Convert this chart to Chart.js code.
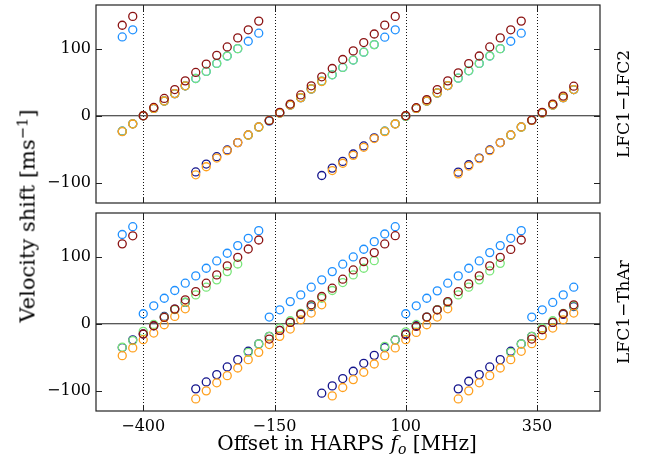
<!DOCTYPE html>
<html><head><meta charset="utf-8">
<script src="https://cdn.jsdelivr.net/npm/chart.js@4.4.0/dist/chart.umd.min.js"></script>
<style>
html,body{margin:0;padding:0;background:#fff;}
#wrap{position:relative;width:647px;height:459px;overflow:hidden;font-family:"DejaVu Serif",serif;color:#000;background:#fff;}
canvas{position:absolute;left:0;}
#c1{top:0;}
#c2{top:208px;}
.lbl{position:absolute;white-space:nowrap;line-height:1;}
#ytitle{left:28px;top:216px;font-size:21px;transform:translate(-50%,-50%) rotate(-90deg);}
#ytitle sup{font-size:70%;vertical-align:0.5em;line-height:0;}
#xtitle{left:347px;top:433px;font-size:20px;transform:translateX(-50%);}
#xtitle sub{font-size:70%;vertical-align:-0.25em;line-height:0;}
#r1{left:623px;top:104px;font-size:17px;transform:translate(-50%,-50%) rotate(-90deg);}
#r2{left:623px;top:312px;font-size:17px;transform:translate(-50%,-50%) rotate(-90deg);}
</style></head><body>
<div id="wrap">
<canvas id="c1" width="647" height="210"></canvas>
<canvas id="c2" width="647" height="251"></canvas>
<div class="lbl" id="ytitle">Velocity shift [ms<sup>−1</sup>]</div>
<div class="lbl" id="xtitle">Offset in HARPS <i>f</i><sub><i>o</i></sub> [MHz]</div>
<div class="lbl" id="r1">LFC1−LFC2</div>
<div class="lbl" id="r2">LFC1−ThAr</div>
</div>
<script>
// Offsets in HARPS f_o [MHz]
const offsets = [-440,-420,-400,-380,-360,-340,-320,-300,-280,-260,-240,-220,-200,-180,-160,-140,-120,-100,-80,-60,-40,-20,0,20,40,60,80,100,120,140,160,180,200,220,240,260,280,300,320,340,360,380,400,420];
const xTicks = [-400, -150, 100, 350];
const yTicks = [-100, 0, 100];

// Panel 1: LFC1-LFC2
const topRed    = [134.8,148,0,12.4,25.8,39,52,64.5,77,90,102.5,116,128,141,-7.4,5,17.4,31,44.6,58,70.4,83.8,96.6,109,121.8,135,148,0,12,24,39,52,64,77.8,89,102.5,116,128,141,-6.4,5,17.4,29.3,44];
const topBlue   = [117.4,128,0,11,22,33,44.6,55.5,66,78,89,100,111,123,-8,4,16,27,40,51.6,61,72,83,94.7,106,117,128,-1,11,22,34,45,56,67,78,89,100,111,123,-7,4,16,27,39];
const topGreen  = [-23,-12,0,11,22,33,44.6,55.5,66,78,89,100,-29,-17,-7,4,16,27,40,51.6,61,72,83,94.7,106,-23,-12,-1,11,22,34,45,56,67,78,89,100,-29,-17,-7,4,16,27,39];
const topOrange = [-23.8,-12.3,0,11,22,33,44.6,-88,-76,-63,-52,-40,-28.7,-16.8,-7,4,16,27,40,51,-81.7,-70.8,-59,-47,-34,-23.8,-12.3,0,11,22,34,45,-86.6,-75,-64,-52,-40,-28.7,-16.8,-7,4,16,27,39];
const topNavy   = [-23,-12,0,11,22,33,44.6,-83.7,-72,-61,-51,-40,-28.7,-16.8,-7,4,16,27,40,-89,-78,-68,-57,-45,-33,-23,-12,0,11,22,34,45,-84,-73,-63,-51,-40,-28.7,-16.8,-7,4,16,27,39];

// Panel 2: LFC1-ThAr
const botRed    = [119,131,-15.3,-3,9.4,21.8,35.7,48,60.4,72.8,86.2,99,111.4,124.8,-22.8,-10,2,14.4,28.2,40.6,53,66.4,80.2,92.6,106,118.9,131.2,-16.3,-4,10,20.8,33,48,59.4,71.3,86.2,99,110.8,124.8,-22.8,-8.9,2,14.9,28.2];
const botBlue   = [133,144.6,14.9,26.7,38,49.5,60.4,71.3,82.7,93.6,105,116.4,127.3,138.7,10,20.8,33,43,54.5,65.4,77.7,88.7,99.5,111,122.3,133.7,144.6,14.9,26.7,38,49,60.4,71.3,82.7,93.6,106,116.4,127.3,138.7,10,20.8,31.7,43,54.5];
const botGreen  = [-35,-25,-11.4,-1,10,21,32,43,54.5,65.4,77.7,89,-42.6,-30.2,-18.8,-6.5,4.5,15.5,26.5,38,49.5,61.4,72.8,82.7,94,-33.7,-23.8,-12,-1,10,21,32,43,54.5,65.4,78.7,90,-42.6,-30.2,-18.8,-6.5,4.5,15.5,26.5];
const botOrange = [-47.5,-36,-23.8,-13.9,-1.5,10.9,22.3,-112,-100,-88,-77.3,-65.9,-53.5,-42.6,-31,-18.8,-7.9,5.9,15.9,28.2,-107.5,-95,-83.2,-72.3,-60,-47.5,-36,-23.8,-12.9,-1.5,10,22.3,-112,-100,-88,-77.3,-65.9,-53.5,-41.1,-29.7,-17.8,-6.4,5.9,15.9];
const botNavy   = [-35.5,-24,-15.3,-3,10.9,21.8,31.7,-97,-86.7,-75.8,-64.4,-53.5,-41,-30,-18.8,-10,2,14,25.7,-103.5,-92.6,-81.7,-70.8,-58.9,-47.1,-35.5,-24,-15,-3,10,20.8,31.7,-97,-85.7,-75.8,-64.4,-53.5,-41,-30,-18.8,-8.9,2,14,25.7];

const COLORS = {red:'#8b1212', navy:'#14148c', orange:'#ffa01e', green:'#7ae67a', blue:'#1e90ff'};
const fmt = v => (v < 0 ? '\u2212' + Math.abs(v) : String(v));

const framePlugin = {
  id: 'frame',
  beforeDatasetsDraw(chart) {
    const {ctx, chartArea: a, scales: {x, y}} = chart;
    ctx.save();
    ctx.beginPath(); ctx.rect(a.left, a.top, a.right - a.left, a.bottom - a.top); ctx.clip();
    const y0 = y.getPixelForValue(0);
    ctx.strokeStyle = '#222'; ctx.lineWidth = 1.2;
    ctx.beginPath(); ctx.moveTo(a.left, y0); ctx.lineTo(a.right, y0); ctx.stroke();
    ctx.setLineDash([1, 2]); ctx.lineWidth = 1; ctx.strokeStyle = '#111';
    xTicks.forEach(v => {
      const px = Math.round(x.getPixelForValue(v)) + 0.5;
      ctx.beginPath(); ctx.moveTo(px, a.top); ctx.lineTo(px, a.bottom); ctx.stroke();
    });
    ctx.restore();
  },
  afterDraw(chart) {
    const {ctx, chartArea: a, scales: {x, y}} = chart;
    ctx.save();
    ctx.strokeStyle = '#222'; ctx.lineWidth = 1.2;
    ctx.strokeRect(a.left, a.top, a.right - a.left, a.bottom - a.top);
    ctx.lineWidth = 1;
    const L = 6;
    ctx.beginPath();
    yTicks.forEach(v => {
      const py = Math.round(y.getPixelForValue(v)) + 0.5;
      ctx.moveTo(a.left, py); ctx.lineTo(a.left + L, py);
      ctx.moveTo(a.right, py); ctx.lineTo(a.right - L, py);
    });
    xTicks.forEach(v => {
      const px = Math.round(x.getPixelForValue(v)) + 0.5;
      ctx.moveTo(px, a.bottom); ctx.lineTo(px, a.bottom - L);
      ctx.moveTo(px, a.top); ctx.lineTo(px, a.top + L);
    });
    ctx.stroke();
    ctx.restore();
  }
};

function makeChart(id, series, showX, padBottom) {
  return new Chart(document.getElementById(id), {
    type: 'scatter',
    data: {
      datasets: series.map(s => ({
        data: offsets.map((o, i) => ({x: o, y: s.values[i]})).filter(p => p.y !== null),
        borderColor: s.color,
        backgroundColor: 'rgba(0,0,0,0)',
        pointRadius: 4,
        pointHoverRadius: 4,
        borderWidth: 1.3,
        showLine: false
      }))
    },
    options: {
      responsive: false, animation: false, events: [],
      plugins: {legend: {display: false}, tooltip: {enabled: false}},
      layout: {autoPadding: false, padding: {top: 5, right: 47, bottom: padBottom, left: 0}},
      scales: {
        x: {
          type: 'linear', min: -490, max: 470, display: showX,
          grid: {display: false, drawTicks: false}, border: {display: false},
          afterBuildTicks: s => { s.ticks = xTicks.map(v => ({value: v})); },
          afterFit: s => { s.height = showX ? 48 : 0; s.paddingLeft = 0; s.paddingRight = 0; },
          ticks: {font: {family: 'DejaVu Serif', size: 16}, color: '#000', padding: 6,
                  maxRotation: 0, autoSkip: false, callback: v => fmt(v)}
        },
        y: {
          type: 'linear', min: -130, max: 165,
          grid: {display: false, drawTicks: false}, border: {display: false},
          afterBuildTicks: s => { s.ticks = yTicks.map(v => ({value: v})); },
          afterFit: s => { s.width = 96; s.paddingTop = 0; s.paddingBottom = 0; },
          ticks: {font: {family: 'DejaVu Serif', size: 16}, color: '#000', padding: 5,
                  callback: v => fmt(v)}
        }
      }
    },
    plugins: [framePlugin]
  });
}

// Dataset order: first listed is drawn on top.
makeChart('c1', [
  {values: topRed, color: COLORS.red},
  {values: topOrange, color: COLORS.orange},
  {values: topGreen, color: COLORS.green},
  {values: topBlue, color: COLORS.blue},
  {values: topNavy, color: COLORS.navy}
], false, 7);

makeChart('c2', [
  {values: botRed, color: COLORS.red},
  {values: botOrange, color: COLORS.orange},
  {values: botGreen, color: COLORS.green},
  {values: botBlue, color: COLORS.blue},
  {values: botNavy, color: COLORS.navy}
], true, 0);
</script>
</body></html>
